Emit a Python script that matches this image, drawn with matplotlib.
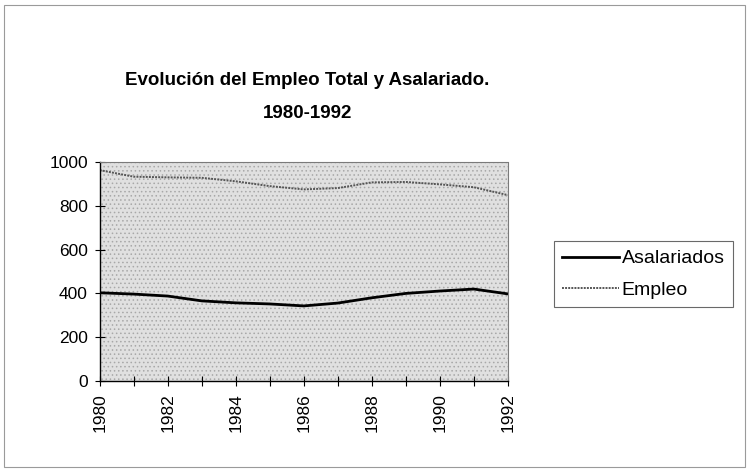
import matplotlib.pyplot as plt
from matplotlib.patches import Rectangle

plt.rcParams['font.family'] = ['Liberation Sans', 'DejaVu Sans']
plt.rcParams['hatch.linewidth'] = 0.6

years = [1980, 1981, 1982, 1983, 1984, 1985, 1986, 1987, 1988, 1989, 1990, 1991, 1992]
asalariados = [403, 397, 388, 366, 357, 352, 343, 356, 380, 400, 411, 420, 398]
empleo = [963, 933, 930, 928, 912, 890, 875, 881, 907, 909, 898, 885, 849]

fig = plt.figure(figsize=(7.5, 4.71), dpi=100)
ax = fig.add_axes([0.133, 0.191, 0.544, 0.465])

# outer frame around the whole chart
fig.patches.append(Rectangle((0.005, 0.008), 0.988, 0.982, transform=fig.transFigure,
                             fill=False, edgecolor='#9a9a9a', linewidth=0.8))

# stippled plot area
ax.set_facecolor('#e0e0e0')
ax.add_patch(Rectangle((0, 0), 1, 1, transform=ax.transAxes, facecolor='none',
                       edgecolor='#a8a8a8', hatch='....', linewidth=0, zorder=0))

ax.plot(years, asalariados, color='black', linewidth=2.0, label='Asalariados')
ax.plot(years, empleo, color='#555555', linewidth=1.4, linestyle=(0, (1, 0.6)), label='Empleo')

ax.set_xlim(1980, 1992)
ax.set_ylim(0, 1000)
ax.set_yticks(range(0, 1001, 200))
ax.set_xticks(years)
ax.set_xticklabels([str(y) if y % 2 == 0 else '' for y in years], rotation=90)
ax.tick_params(axis='both', direction='inout', length=7, width=0.8, labelsize=12.5)
ax.tick_params(axis='x', pad=5)
ax.tick_params(axis='y', pad=5)

for side in ['top', 'right']:
    ax.spines[side].set_color('#7a7a7a')
    ax.spines[side].set_linestyle((0, (1, 1)))
for side in ['left', 'bottom']:
    ax.spines[side].set_linewidth(1.0)

fig.text(0.41, 0.83, 'Evolución del Empleo Total y Asalariado.', ha='center', va='center',
         fontsize=13.5, fontweight='bold')
fig.text(0.41, 0.76, '1980-1992', ha='center', va='center', fontsize=13.5, fontweight='bold')

leg = fig.legend(loc='center left', bbox_to_anchor=(0.738, 0.418), fontsize=14,
                 frameon=True, fancybox=False, handlelength=2.9, handletextpad=0.15,
                 borderpad=0.45, labelspacing=0.7, borderaxespad=0)
leg.get_frame().set_edgecolor('#444444')
leg.get_frame().set_linewidth(0.8)

fig.savefig('out.png', dpi=100)
